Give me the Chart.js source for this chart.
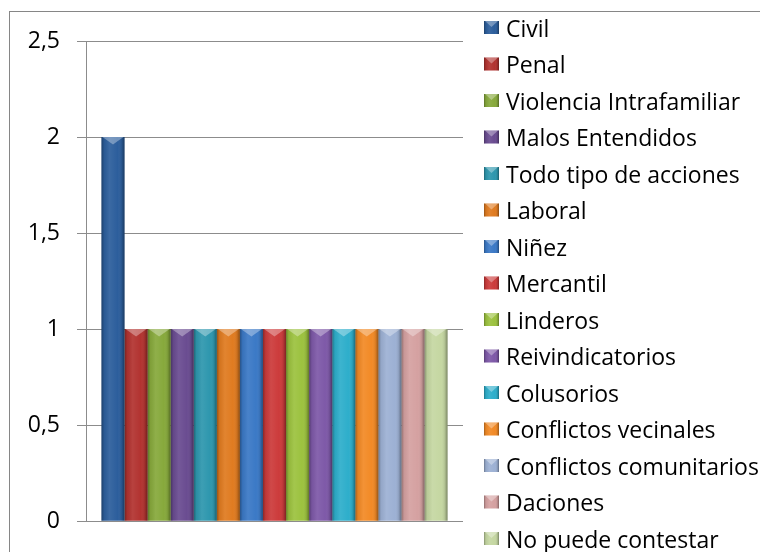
<!DOCTYPE html>
<html>
<head>
<meta charset="utf-8">
<script src="https://cdn.jsdelivr.net/npm/chart.js@4/dist/chart.umd.min.js"></script>
<style>
  body { margin: 0; background: #fff; }
  canvas { display: block; }
</style>
</head>
<body>
<canvas id="chart" width="760" height="552"></canvas>
<script>
// series names (one bar each) and their counts
const series_labels = [
	'Civil', 'Penal', 'Violencia Intrafamiliar', 'Malos Entendidos',
	'Todo tipo de acciones', 'Laboral', 'Niñez', 'Mercantil', 'Linderos',
	'Reivindicatorios', 'Colusorios', 'Conflictos vecinales',
	'Conflictos comunitarios', 'Daciones', 'No puede contestar'
]
const series_values = [2, 1, 1, 1, 1, 1, 1, 1, 1, 1, 1, 1, 1, 1, 1]
const series_colors = [
	'#2c5e9c', '#b23330', '#87a93c', '#6a4c91', '#2e97ae', '#e07b20',
	'#3b79c6', '#cc3b3b', '#9cc23f', '#7e59a8', '#2eaecb', '#f28a26',
	'#9db1d4', '#d5a1a1', '#c5d7a2'
]
const y_ticks = [0, 0.5, 1, 1.5, 2, 2.5]

const font_family = '"Open Sans", "Noto Sans", sans-serif'
const font_size = 23
const grid_color = '#8c8c8c'

const datasets = series_labels.map((label, i) => ({
	label: label,
	data: [series_values[i]],
	backgroundColor: series_colors[i],
	borderWidth: 0,
	xAxisID: 'x',
	yAxisID: 'y'
}))

function bevel_rect(ctx, left, top, width, height, tri) {
	const g = ctx.createLinearGradient(left, 0, left + width, 0)
	g.addColorStop(0, 'rgba(0,0,0,0.32)')
	g.addColorStop(0.12, 'rgba(0,0,0,0.06)')
	g.addColorStop(0.35, 'rgba(255,255,255,0.07)')
	g.addColorStop(0.7, 'rgba(255,255,255,0)')
	g.addColorStop(0.88, 'rgba(0,0,0,0.1)')
	g.addColorStop(1, 'rgba(0,0,0,0.38)')
	ctx.fillStyle = g
	ctx.fillRect(left, top, width, height)
	ctx.beginPath()
	ctx.moveTo(left + 1, top)
	ctx.lineTo(left + width - 1, top)
	ctx.lineTo(left + width / 2, top + width * tri)
	ctx.closePath()
	ctx.fillStyle = 'rgba(255,255,255,0.33)'
	ctx.fill()
}

// excel-like bevel on each bar
const bevel = {
	id: 'bevel',
	afterDatasetsDraw(chart) {
		const ctx = chart.ctx
		ctx.save()
		chart.data.datasets.forEach((ds, i) => {
			chart.getDatasetMeta(i).data.forEach(bar => {
				const {x, y, base, width} = bar.getProps(['x', 'y', 'base', 'width'], true)
				bevel_rect(ctx, x - width / 2, y, width, base - y, 0.32)
			})
		})
		ctx.restore()
	}
}

// legend column on the right, like the excel one
const side_legend = {
	id: 'side_legend',
	afterDraw(chart) {
		const ctx = chart.ctx
		const items = chart.data.datasets
		const row = 36.5
		const box_x = chart.chartArea.right + 21
		const first = chart.height / 2 + 7 - row * (items.length - 1) / 2
		ctx.save()
		ctx.font = font_size + 'px ' + font_family
		ctx.textBaseline = 'middle'
		items.forEach((ds, i) => {
			const cy = first + i * row
			ctx.fillStyle = ds.backgroundColor
			ctx.fillRect(box_x, cy - 6.5, 15, 13)
			bevel_rect(ctx, box_x, cy - 6.5, 15, 13, 0.4)
			ctx.fillStyle = '#000'
			ctx.fillText(ds.label, box_x + 22, cy + 2.5)
		})
		ctx.restore()
	}
}

// outer chart frame
const frame = {
	id: 'frame',
	beforeDraw(chart) {
		const ctx = chart.ctx
		ctx.save()
		ctx.strokeStyle = '#868686'
		ctx.lineWidth = 1
		ctx.strokeRect(9.5, 11.5, chart.width, chart.height)
		ctx.restore()
	}
}

new Chart(document.getElementById('chart'), {
	type: 'bar',
	data: { labels: [''], datasets: datasets },
	options: {
		responsive: false,
		animation: false,
		categoryPercentage: 0.918,
		barPercentage: 1,
		layout: { padding: { top: 41, bottom: 25, left: 0, right: 297 } },
		plugins: {
			tooltip: { enabled: false },
			legend: { display: false }
		},
		scales: {
			x: {
				display: false
			},
			y: {
				min: 0,
				max: 2.5,
				afterBuildTicks: s => { s.ticks = y_ticks.map(v => ({ value: v })) },
				ticks: {
					color: '#000',
					font: { family: font_family, size: font_size },
					padding: 17,
					callback: v => String(v).replace('.', ',')
				},
				grid: { color: grid_color, tickLength: 9 },
				border: { color: grid_color },
				afterFit: s => { s.width = 86 }
			}
		}
	},
	plugins: [frame, bevel, side_legend]
})
</script>
</body>
</html>
